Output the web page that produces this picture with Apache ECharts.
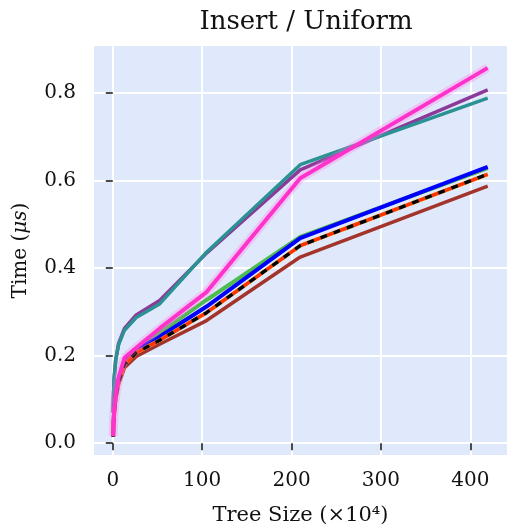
<!DOCTYPE html>
<html>
<head>
<meta charset="utf-8">
<script src="https://cdn.jsdelivr.net/npm/echarts@6/dist/echarts.min.js"></script>
<style>
    html, body { margin: 0; padding: 0; background: #fff; }
    #chartDiv { width: 509px; height: 531px; }
</style>
</head>
<body>
<div id="chartDiv"></div>
<script>
// tree sizes (x10^4)
var treeSizes = [0.41, 0.82, 1.64, 3.28, 6.55, 13.1, 26.2, 52.4, 104.9, 209.7, 419.4];

var tealTimes   = [0.070, 0.110, 0.150, 0.190, 0.225, 0.258, 0.287, 0.318, 0.436, 0.636, 0.788];
var purpleTimes = [0.070, 0.110, 0.150, 0.190, 0.228, 0.262, 0.293, 0.326, 0.434, 0.624, 0.807];
var pinkTimes   = [0.016, 0.045, 0.075, 0.110, 0.150, 0.195, 0.218, 0.262, 0.345, 0.605, 0.857];
var greenTimes  = [0.015, 0.045, 0.075, 0.110, 0.145, 0.187, 0.216, 0.252, 0.327, 0.471, 0.628];
var blueTimes   = [0.015, 0.045, 0.075, 0.110, 0.145, 0.185, 0.212, 0.243, 0.312, 0.468, 0.631];
var orangeTimes = [0.015, 0.043, 0.072, 0.105, 0.140, 0.180, 0.207, 0.235, 0.298, 0.451, 0.614];
var redTimes    = [0.015, 0.043, 0.072, 0.105, 0.140, 0.180, 0.207, 0.235, 0.298, 0.451, 0.614];
var blackTimes  = [0.015, 0.043, 0.072, 0.105, 0.140, 0.180, 0.207, 0.235, 0.298, 0.451, 0.614];
var brownTimes  = [0.015, 0.040, 0.068, 0.100, 0.135, 0.172, 0.198, 0.226, 0.280, 0.425, 0.587];

var xTicks = [0, 100, 200, 300, 400];
var yTicks = [0, 0.2, 0.4, 0.6, 0.8];

var serif = "'DejaVu Serif', serif";

function pairs(values) {
    return treeSizes.map(function (x, i) {
        return [x, values[i]];
    });
}

function lineSeries(name, values, color, width, dash, dashOffset) {
    return {
        name: name,
        type: 'line',
        showSymbol: false,
        symbol: 'none',
        data: pairs(values),
        lineStyle: {
            color: color,
            width: width,
            type: dash || 'solid',
            dashOffset: dashOffset || 0
        },
        z: 2
    };
}

var myChart = echarts.init(document.getElementById('chartDiv'));
myChart.setOption({
    animation: false,
    title: {
        text: 'Insert / Uniform',
        left: 301,
        textAlign: 'center',
        top: 4,
        textStyle: { fontFamily: serif, fontSize: 26, fontWeight: 'normal', color: '#111' }
    },
    grid: {
        left: 94,
        right: 2,
        top: 46,
        bottom: 74,
        show: true,
        backgroundColor: '#e0e8fb',
        borderWidth: 0
    },
    xAxis: {
        type: 'value',
        min: -21,
        max: 441,
        name: 'Tree Size (×10⁴)',
        nameLocation: 'middle',
        nameGap: 50,
        nameTextStyle: { fontFamily: serif, fontSize: 21, color: '#111' },
        axisLine: { show: false },
        axisTick: { show: true, length: 7, customValues: xTicks, lineStyle: { color: '#111', width: 1.5 } },
        axisLabel: { customValues: xTicks, margin: 16, fontFamily: serif, fontSize: 20, color: '#111' },
        splitLine: { show: true, lineStyle: { color: '#fff', width: 2 } }
    },
    yAxis: {
        type: 'value',
        min: -0.027,
        max: 0.907,
        name: '{n|Time (}{i|μs}{n|)}',
        nameLocation: 'middle',
        nameGap: 63,
        nameRotate: 90,
        nameTextStyle: {
            rich: {
                n: { fontFamily: serif, fontSize: 20, color: '#111' },
                i: { fontFamily: serif, fontSize: 20, fontStyle: 'italic', color: '#111' }
            }
        },
        axisLine: { show: false },
        axisTick: { show: true, length: 7, customValues: yTicks, lineStyle: { color: '#111', width: 1.5 } },
        axisLabel: {
            customValues: yTicks,
            margin: 18,
            fontFamily: serif,
            fontSize: 20,
            color: '#111',
            formatter: function (v) { return v.toFixed(1); }
        },
        splitLine: { show: true, lineStyle: { color: '#fff', width: 2 } }
    },
    series: [
        lineSeries('purple', purpleTimes, '#8b3a9a', 3.5),
        lineSeries('teal', tealTimes, '#2b9294', 3.5),
        lineSeries('brown', brownTimes, '#a3342b', 3.5),
        lineSeries('green', greenTimes, '#4dbb4d', 4),
        lineSeries('blue', blueTimes, '#0000ff', 4),
        lineSeries('orange', orangeTimes, '#ffb347', 4),
        lineSeries('red', redTimes, '#ff3300', 3.5, [7, 7], 7),
        lineSeries('black', blackTimes, '#000000', 3.5, [7, 7], 0),
        {
            name: 'pink band',
            type: 'line',
            symbol: 'none',
            data: pairs(pinkTimes),
            lineStyle: { color: 'rgba(255, 120, 230, 0.3)', width: 9 },
            z: 2
        },
        lineSeries('pink', pinkTimes, '#ff33cc', 4)
    ]
});
</script>
</body>
</html>
